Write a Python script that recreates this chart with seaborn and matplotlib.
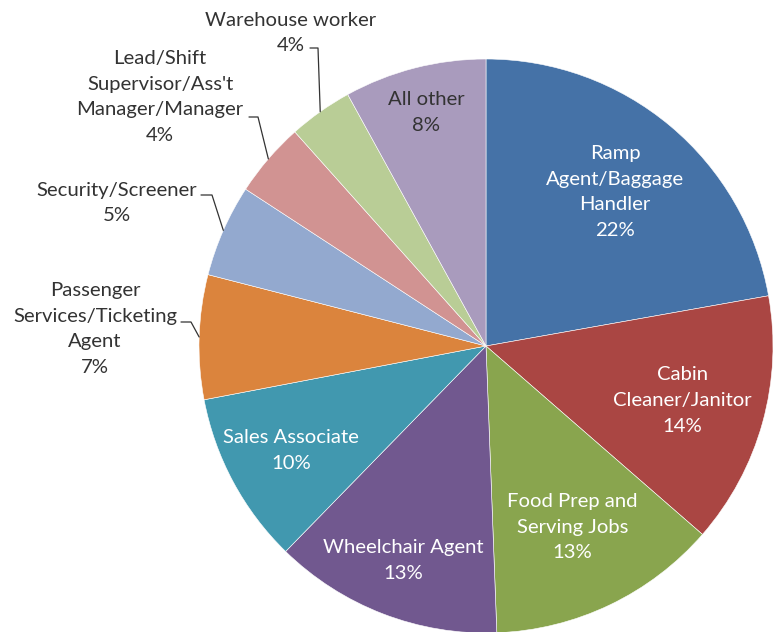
import matplotlib

matplotlib.use("Agg")
import matplotlib.pyplot as plt
import numpy as np
import seaborn as sns

# Share of workers by job category
jobs = [
    "Ramp\nAgent/Baggage\nHandler",
    "Cabin\nCleaner/Janitor",
    "Food Prep and\nServing Jobs",
    "Wheelchair Agent",
    "Sales Associate",
    "Passenger\nServices/Ticketing\nAgent",
    "Security/Screener",
    "Lead/Shift\nSupervisor/Ass't\nManager/Manager",
    "Warehouse worker",
    "All other",
]
shares = [22.2, 14.2, 13.0, 12.9, 9.7, 7.0, 5.2, 4.2, 3.6, 8.0]
colors = ["#4572A7", "#AA4643", "#89A54E", "#71588F", "#4198AF",
          "#DB843D", "#93A9CF", "#D19392", "#B9CD96", "#A99BBD"]

W, H = 774, 632
CX, CY, R = 486, 346, 287


def px(x, y):
    # pixel (from top-left) -> data units of the pie
    return (x - CX) / R, (CY - y) / R


sns.set_theme(style="white")
plt.rcParams["font.family"] = ["Lato", "DejaVu Sans"]

fig = plt.figure(figsize=(W / 100, H / 100), dpi=100)
ax = fig.add_axes([0, 0, 1, 1])
wedges, _ = ax.pie(
    shares,
    colors=colors,
    startangle=90,
    counterclock=False,
    radius=1,
    wedgeprops={"edgecolor": "white", "linewidth": 0.4},
)
ax.set_xlim(-CX / R, (W - CX) / R)
ax.set_ylim(-(H - CY) / R, CY / R)
ax.set_aspect("auto")
ax.axis("off")

fs = 14.6
ls = 1.62
inside = {0: 0.70, 1: 0.71, 2: 0.70, 3: 0.80, 4: 0.77, 9: 0.84}
# outside labels: text centre, line start, elbow (pixels)
outside = {
    5: ((95, 329), (181, 322), (191, 322)),
    6: ((117, 203), (201, 195), (212, 195)),
    7: ((160, 97), (249, 117), (258, 117)),
    8: ((291, 33), (310, 48), (318, 48)),
}

for i, (w, job, v) in enumerate(zip(wedges, jobs, shares)):
    mid = np.deg2rad((w.theta1 + w.theta2) / 2)
    label = f"{job}\n{v:.0f}%"
    if i in inside:
        r = inside[i]
        col = "#333333" if i == 9 else "white"
        ax.text(r * np.cos(mid), r * np.sin(mid), label, ha="center", va="center",
                color=col, fontsize=fs, linespacing=ls)
    else:
        tpos, start, elbow = outside[i]
        ax.text(*px(*tpos), label, ha="center", va="center",
                color="#333333", fontsize=fs, linespacing=ls)
        xs = [px(*start)[0], px(*elbow)[0], np.cos(mid)]
        ys = [px(*start)[1], px(*elbow)[1], np.sin(mid)]
        ax.plot(xs, ys, color="#333333", lw=0.9)

fig.savefig("out.png", dpi=100)
